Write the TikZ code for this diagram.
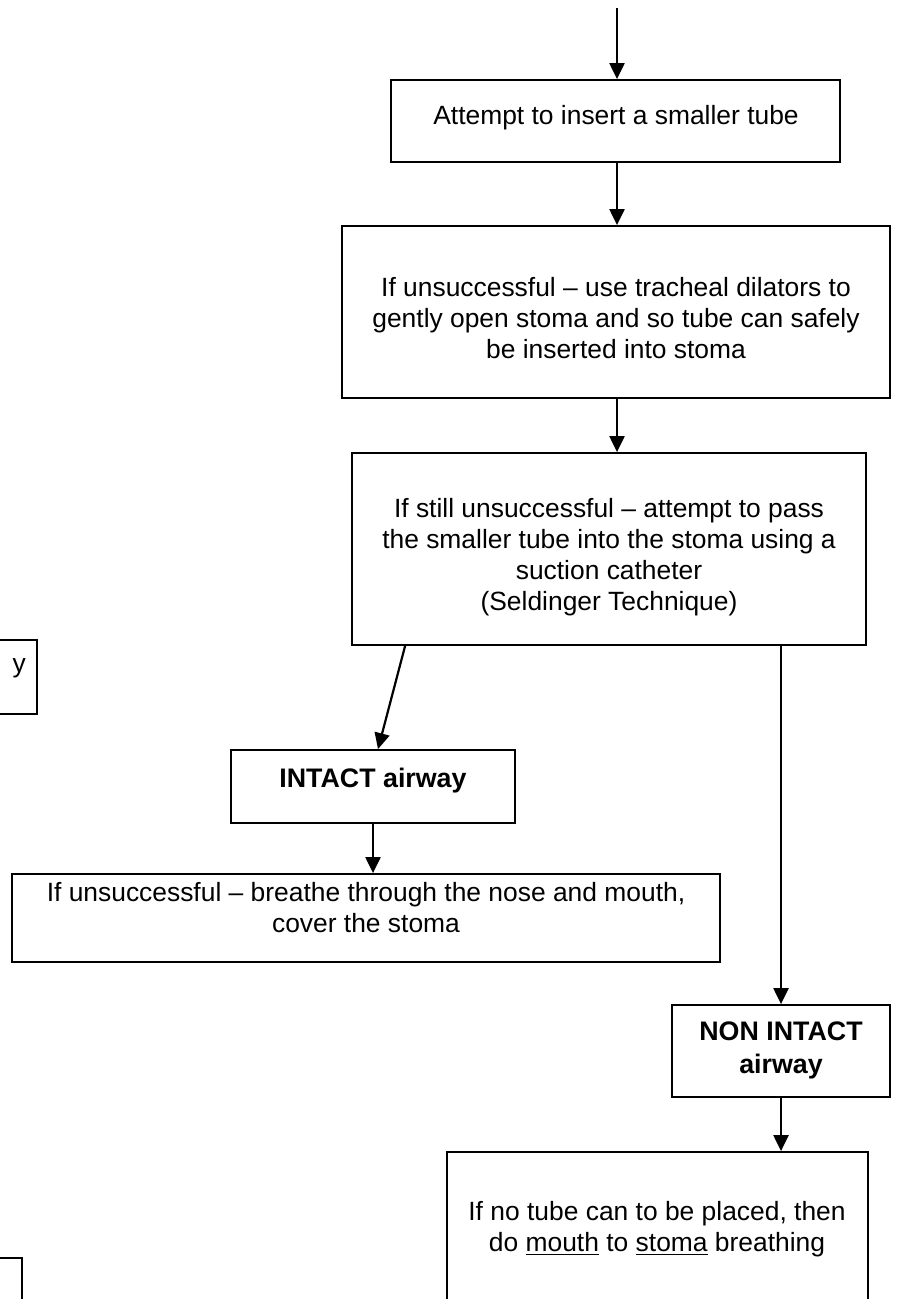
\documentclass[tikz,border=0pt]{standalone}
\usepackage{fontspec}
\setmainfont{Liberation Sans}
\usetikzlibrary{arrows.meta,fit,calc}

\begin{document}
\begin{tikzpicture}[x=0.5pt,y=-0.5pt,
    box/.style={draw,line width=0.9pt,inner sep=0pt},
    txt/.style={align=center,font=\fontsize{13.2}{15.5}\selectfont},
    lbl/.style={align=center,font=\fontsize{13.4}{16.5}\selectfont\bfseries},
    arrow/.style={-{Triangle[width=7.5pt,length=8pt]},line width=1.1pt}]
  \useasboundingbox (0,0) rectangle (896,1299);
  % boxes
  \node[box,fit={(391,80) (840,162)}] (tube) {};
  \node[box,fit={(342,226) (890,398)}] (dilate) {};
  \node[box,fit={(352,453) (866,645)}] (seld) {};
  \node[box,fit={(231,750) (515,823)}] (intact) {};
  \node[box,fit={(12,874) (720,962)}] (nose) {};
  \node[box,fit={(672,1005) (890,1097)}] (nonintact) {};
  \node[box,fit={(447,1152) (868,1340)}] (mouth) {};
  % boxes cut at the left edge
  \node[box,fit={(-80,640) (37,714)}] (leftA) {};
  \node[box,fit={(-80,1258) (22,1340)}] (leftB) {};
  % texts
  \node[txt] (ttube) at (616,118) {Attempt to insert a smaller tube};
  \node[txt] (tdilate) at (616,318) {If unsuccessful – use tracheal dilators to\\
    gently open stoma and so tube can safely\\be inserted into stoma};
  \node[txt] (tseld) at (609,557) {If still unsuccessful – attempt to pass\\
    the smaller tube into the stoma using a\\suction catheter\\(Seldinger Technique)};
  \node[lbl] (tintact) at (373,781) {INTACT airway};
  \node[txt] (tnose) at (366,908) {If unsuccessful – breathe through the nose and mouth,\\
    cover the stoma};
  \node[lbl] (tnonintact) at (781,1050) {NON INTACT\\airway};
  \node[txt] (tmouth) at (657,1229) {If no tube can to be placed, then\\
    do \underline{mouth} to \underline{stoma} breathing};
  \node[txt,anchor=east] (tleftA) at (33,668) {y};
  % arrows
  \coordinate (start) at (617,8);
  \draw[arrow] (start) -- (start |- tube.north);
  \draw[arrow] (start |- tube.south) -- (start |- dilate.north);
  \draw[arrow] (start |- dilate.south) -- (start |- seld.north);
  \draw[arrow] ($(seld.south west)+(54,0)$) -- ($(intact.north)+(5,0)$);
  \draw[arrow] (intact.south) -- (intact.south |- nose.north);
  \draw[arrow] (nonintact.north |- seld.south) -- (nonintact.north);
  \draw[arrow] (nonintact.south) -- (nonintact.south |- mouth.north);
\end{tikzpicture}
\end{document}
